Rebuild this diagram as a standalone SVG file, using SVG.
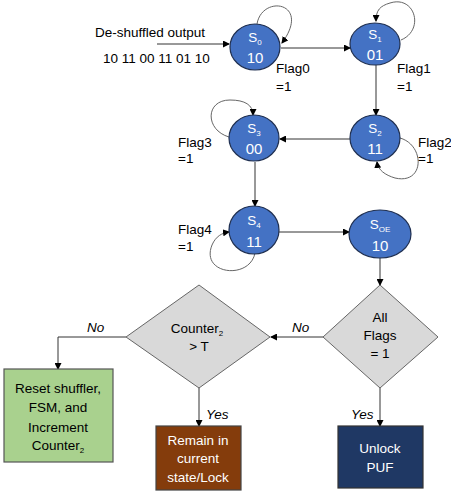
<svg xmlns="http://www.w3.org/2000/svg" width="451" height="493" viewBox="0 0 451 493">
<style>
text{font-family:"Liberation Sans",Arial,sans-serif;font-size:13.5px;fill:#000}
.st{fill:#4472C4;stroke:#1F2F50;stroke-width:1.2}
.wt{fill:#fff;text-anchor:middle}
.c{stroke:#333;stroke-width:1;fill:none}
.lp{stroke:#666;stroke-width:1;fill:none}
.dm{fill:#D9D9D9;stroke:#666;stroke-width:1}
.ct{text-anchor:middle}
.it{font-style:italic}
.sub{font-size:8px}
.nv{font-size:15px}
</style>
<defs>
<marker id="ah" markerWidth="7" markerHeight="7" refX="6" refY="3.5" orient="auto" markerUnits="userSpaceOnUse">
<path d="M0,0 L7,3.5 L0,7 Z" fill="#000"/>
</marker>
</defs>
<g id="connectors">
<line class="c" x1="157" y1="44" x2="229" y2="44" marker-end="url(#ah)"/>
<line class="c" x1="281" y1="48" x2="350" y2="48" marker-end="url(#ah)"/>
<line class="c" x1="376" y1="65" x2="376" y2="115" marker-end="url(#ah)"/>
<line class="c" x1="350" y1="139" x2="280" y2="139" marker-end="url(#ah)"/>
<line class="c" x1="255" y1="162" x2="255" y2="206" marker-end="url(#ah)"/>
<line class="c" x1="279" y1="232" x2="349" y2="232" marker-end="url(#ah)"/>
<line class="c" x1="380" y1="258" x2="380" y2="285" marker-end="url(#ah)"/>
<line class="c" x1="323" y1="337" x2="271" y2="337" marker-end="url(#ah)"/>
<polyline class="c" points="126,337 58,337 58,369" marker-end="url(#ah)"/>
<line class="c" x1="199" y1="387" x2="199" y2="426" marker-end="url(#ah)"/>
<line class="c" x1="380" y1="387" x2="380" y2="426" marker-end="url(#ah)"/>
<path class="lp" d="M257 24 C262 -6,312 2,282 43" marker-end="url(#ah)"/>
<path class="lp" d="M401 40 C425 30,415 -5,390 3 C380 6,376 10,376 21" marker-end="url(#ah)"/>
<path class="lp" d="M229 137 C205 130,205 100,230 100 C245 100,253 105,253 115" marker-end="url(#ah)"/>
<path class="lp" d="M400 138 C425 145,425 185,395 178 C385 175,378 170,377 162" marker-end="url(#ah)"/>
<path class="lp" d="M255 253 C250 280,200 275,212 245 C216 236,222 233,229 232" marker-end="url(#ah)"/>
<text x="95" y="37" font-size="15">De-shuffled output</text>
<text x="103" y="63" font-size="14.5">10 11 00 11 01 10</text>
<text x="276" y="73">Flag0</text>
<text x="276" y="91">=1</text>
<text x="397" y="73">Flag1</text>
<text x="397" y="91">=1</text>
<text x="178" y="147">Flag3</text>
<text x="178" y="163">=1</text>
<text x="418" y="147">Flag2</text>
<text x="418" y="163">=1</text>
<text x="178" y="234">Flag4</text>
<text x="178" y="251">=1</text>
<text class="it" x="87" y="332">No</text>
<text class="it" x="292" y="332">No</text>
<text class="it" x="206" y="419">Yes</text>
<text class="it" x="351" y="419">Yes</text>
</g>
<g id="S0">
<ellipse class="st" cx="255" cy="47" rx="25" ry="23"/>
<text class="wt" x="255" y="42">S<tspan class="sub" dy="3">0</tspan></text>
<text class="wt nv" x="255" y="63">10</text>
</g>
<g id="S1">
<ellipse class="st" cx="375" cy="44" rx="25" ry="21"/>
<text class="wt" x="375" y="39">S<tspan class="sub" dy="3">1</tspan></text>
<text class="wt nv" x="375" y="60">01</text>
</g>
<g id="S2">
<ellipse class="st" cx="375" cy="138" rx="25" ry="23"/>
<text class="wt" x="375" y="133">S<tspan class="sub" dy="3">2</tspan></text>
<text class="wt nv" x="375" y="154">11</text>
</g>
<g id="S3">
<ellipse class="st" cx="254" cy="138" rx="25" ry="23"/>
<text class="wt" x="254" y="133">S<tspan class="sub" dy="3">3</tspan></text>
<text class="wt nv" x="254" y="154">00</text>
</g>
<g id="S4">
<ellipse class="st" cx="254" cy="230" rx="25" ry="24"/>
<text class="wt" x="254" y="225">S<tspan class="sub" dy="3">4</tspan></text>
<text class="wt nv" x="254" y="247">11</text>
</g>
<g id="SOE">
<ellipse class="st" cx="380" cy="234" rx="31" ry="24"/>
<text class="wt" x="380" y="229">S<tspan class="sub" dy="3">OE</tspan></text>
<text class="wt nv" x="380" y="251">10</text>
</g>
<g id="allflags">
<polygon class="dm" points="380,285 438,337 380,388 323,337"/>
<text class="ct" x="380" y="322">All</text>
<text class="ct" x="380" y="340">Flags</text>
<text class="ct" x="380" y="358">= 1</text>
</g>
<g id="counter">
<polygon class="dm" points="199,285 270,337 199,388 126,337"/>
<text class="ct" x="197" y="333">Counter<tspan class="sub" dy="3">2</tspan></text>
<text class="ct" x="199" y="351">&gt; T</text>
</g>
<g id="reset">
<rect x="4" y="369" width="109" height="93" fill="#A9D18E" stroke="#555" stroke-width="1.2"/>
<text class="ct" x="58" y="393">Reset shuffler,</text>
<text class="ct" x="58" y="412">FSM, and</text>
<text class="ct" x="58" y="432">Increment</text>
<text class="ct" x="58" y="450">Counter<tspan class="sub" dy="3">2</tspan></text>
</g>
<g id="remain">
<rect x="156" y="426" width="85" height="64" fill="#843C0C" stroke="#444" stroke-width="1.2"/>
<text class="wt" x="198" y="445">Remain in</text>
<text class="wt" x="198" y="463">current</text>
<text class="wt" x="198" y="482">state/Lock</text>
</g>
<g id="unlock">
<rect x="338" y="426" width="85" height="62" fill="#1F3864" stroke="#333" stroke-width="1.2"/>
<text class="wt" x="380" y="453">Unlock</text>
<text class="wt" x="380" y="472">PUF</text>
</g>
</svg>
